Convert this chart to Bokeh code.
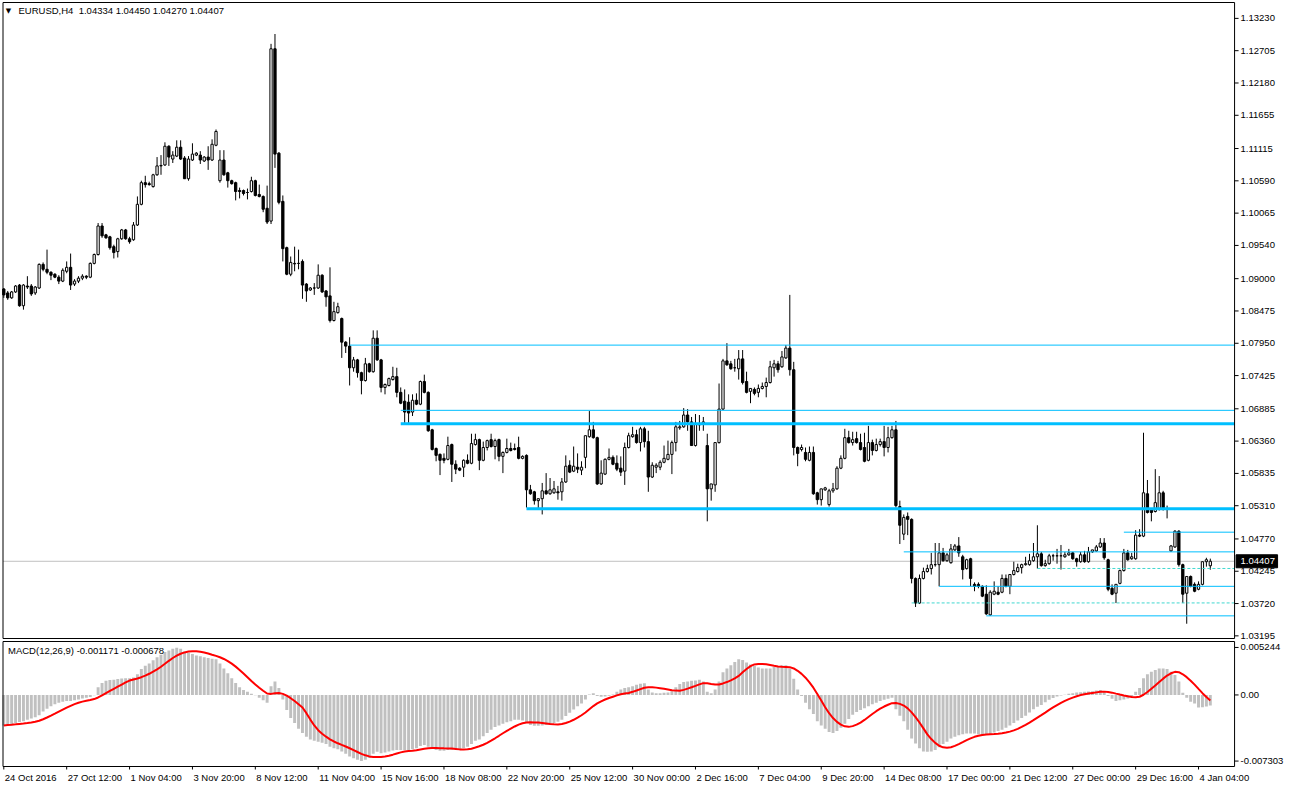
import numpy as np
import pandas as pd
from bokeh.plotting import figure
from bokeh.layouts import column
from bokeh.models import Range1d, ColumnDataSource
from bokeh.core.properties import value
from bokeh.embed import file_html
from bokeh.resources import INLINE

FONT = "Liberation Sans"
FS = "9.5px"

symbol_title = "EURUSD,H4\u00a0 1.04334 1.04450 1.04270 1.04407"
macd_title = "MACD(12,26,9) -0.001171 -0.000678"

open_ = [
    1.08832, 1.08768, 1.08688, 1.08784, 1.08896, 1.08560, 1.08880, 1.08880, 1.08768, 1.08848,
    1.09232, 1.09152, 1.09104, 1.09072, 1.09024, 1.08960, 1.09120, 1.09184, 1.08912, 1.08960,
    1.09008, 1.09040, 1.09024, 1.09248, 1.09392, 1.09856, 1.09712, 1.09680, 1.09520, 1.09440,
    1.09648, 1.09792, 1.09648, 1.09632, 1.09872, 1.10208, 1.10560, 1.10544, 1.10496, 1.10688,
    1.10832, 1.10848, 1.11152, 1.10944, 1.10992, 1.11136, 1.10960, 1.10624, 1.10928, 1.11008,
    1.11008, 1.10912, 1.10976, 1.10928, 1.11168, 1.10592, 1.10928, 1.10720, 1.10592, 1.10560,
    1.10432, 1.10432, 1.10400, 1.10416, 1.10592, 1.10368, 1.10336, 1.10144, 1.09936, 1.12736,
    1.11040, 1.10256, 1.09504, 1.09072, 1.09248, 1.09248, 1.09280, 1.08912, 1.08816, 1.08848,
    1.08848, 1.09056, 1.08800, 1.08720, 1.08320, 1.08448, 1.08352, 1.07968, 1.07904, 1.07552,
    1.07680, 1.07472, 1.07344, 1.07616, 1.07488, 1.08032, 1.07680, 1.07232, 1.07264, 1.07360,
    1.07408, 1.07152, 1.07008, 1.06992, 1.06832, 1.07024, 1.06960, 1.07328, 1.07152, 1.06544,
    1.06240, 1.06144, 1.06080, 1.06064, 1.06304, 1.05984, 1.05920, 1.05936, 1.06048, 1.06000,
    1.06304, 1.06384, 1.06048, 1.06256, 1.06384, 1.06272, 1.06384, 1.06112, 1.06176, 1.06240,
    1.06240, 1.06256, 1.06080, 1.06128, 1.05568, 1.05536, 1.05392, 1.05424, 1.05552, 1.05504,
    1.05520, 1.05536, 1.05536, 1.05696, 1.05968, 1.05872, 1.05936, 1.05888, 1.06096, 1.06432,
    1.06544, 1.06416, 1.05664, 1.05824, 1.06064, 1.06096, 1.06000, 1.05920, 1.05872, 1.06256,
    1.06432, 1.06464, 1.06336, 1.06560, 1.06352, 1.05776, 1.05936, 1.05936, 1.06016, 1.06064,
    1.06144, 1.06336, 1.06576, 1.06592, 1.06784, 1.06672, 1.06288, 1.06640, 1.06640, 1.06288,
    1.05584, 1.05648, 1.06336, 1.06880, 1.07664, 1.07616, 1.07552, 1.07536, 1.07696, 1.07328,
    1.07168, 1.07200, 1.07152, 1.07216, 1.07248, 1.07312, 1.07552, 1.07616, 1.07568, 1.07712,
    1.07872, 1.07520, 1.06256, 1.06224, 1.06176, 1.06048, 1.06176, 1.05520, 1.05408, 1.05568,
    1.05328, 1.05552, 1.05584, 1.05920, 1.06080, 1.06416, 1.06336, 1.06400, 1.06336, 1.06256,
    1.06048, 1.06336, 1.06208, 1.06304, 1.06352, 1.06256, 1.06416, 1.06544, 1.05296, 1.04848,
    1.05136, 1.05088, 1.04128, 1.03728, 1.04128, 1.04240, 1.04288, 1.04352, 1.04352, 1.04544,
    1.04416, 1.04384, 1.04592, 1.04656, 1.04480, 1.04288, 1.04448, 1.04032, 1.04032, 1.04000,
    1.03872, 1.03536, 1.03872, 1.03904, 1.03904, 1.04128, 1.04000, 1.04192, 1.04240, 1.04304,
    1.04352, 1.04352, 1.04416, 1.04480, 1.04528, 1.04336, 1.04368, 1.04496, 1.04496, 1.04496,
    1.04480, 1.04512, 1.04544, 1.04448, 1.04400, 1.04512, 1.04400, 1.04560, 1.04576, 1.04640,
    1.04704, 1.04432, 1.03968, 1.03888, 1.04048, 1.04256, 1.04544, 1.04448, 1.04448, 1.04832,
    1.04816, 1.05504, 1.05248, 1.05216, 1.05248, 1.05520, 1.05248, 1.04576, 1.04640, 1.04896,
    1.04352, 1.03888, 1.04160, 1.04032, 1.03952, 1.04032, 1.04400, 1.04334,
]

high = [
    1.08848, 1.08800, 1.08800, 1.08896, 1.08912, 1.08912, 1.09040, 1.08912, 1.08880, 1.09248,
    1.09264, 1.09472, 1.09120, 1.09088, 1.09056, 1.09168, 1.09280, 1.09408, 1.08992, 1.09040,
    1.09072, 1.09056, 1.09264, 1.09408, 1.09904, 1.09904, 1.09728, 1.09696, 1.09552, 1.09664,
    1.09808, 1.09808, 1.09680, 1.09920, 1.10336, 1.10592, 1.10672, 1.10576, 1.10704, 1.10976,
    1.11008, 1.11216, 1.11168, 1.11072, 1.11248, 1.11248, 1.10992, 1.10992, 1.11200, 1.11056,
    1.11072, 1.10992, 1.11152, 1.11264, 1.11424, 1.11088, 1.11088, 1.10736, 1.10608, 1.10576,
    1.10480, 1.10448, 1.10464, 1.10656, 1.10608, 1.10528, 1.10352, 1.10512, 1.12816, 1.12976,
    1.11056, 1.10352, 1.09520, 1.09360, 1.09520, 1.09472, 1.09312, 1.08928, 1.08864, 1.08928,
    1.09232, 1.09072, 1.08816, 1.09184, 1.08624, 1.08608, 1.08368, 1.07984, 1.08048, 1.07728,
    1.07696, 1.07488, 1.07712, 1.07632, 1.08160, 1.08160, 1.07696, 1.07296, 1.07392, 1.07568,
    1.07552, 1.07232, 1.07200, 1.07120, 1.07120, 1.07136, 1.07344, 1.07440, 1.07168, 1.06560,
    1.06256, 1.06160, 1.06160, 1.06432, 1.06320, 1.06048, 1.05936, 1.06064, 1.06144, 1.06480,
    1.06480, 1.06400, 1.06352, 1.06384, 1.06480, 1.06400, 1.06400, 1.06192, 1.06400, 1.06336,
    1.06320, 1.06432, 1.06128, 1.06144, 1.05648, 1.05552, 1.05424, 1.05680, 1.05840, 1.05760,
    1.05712, 1.05632, 1.05760, 1.06128, 1.06048, 1.06272, 1.06160, 1.06032, 1.06448, 1.06848,
    1.06672, 1.06432, 1.06048, 1.06080, 1.06240, 1.06128, 1.06128, 1.06112, 1.06336, 1.06496,
    1.06592, 1.06544, 1.06592, 1.06592, 1.06528, 1.06016, 1.06000, 1.06048, 1.06288, 1.06368,
    1.06368, 1.06672, 1.06688, 1.06896, 1.06880, 1.06752, 1.06800, 1.06784, 1.06752, 1.06480,
    1.05664, 1.06336, 1.07296, 1.07696, 1.07952, 1.07664, 1.07696, 1.07840, 1.07840, 1.07488,
    1.07216, 1.07232, 1.07280, 1.07312, 1.07392, 1.07664, 1.07680, 1.07664, 1.07824, 1.07920,
    1.08736, 1.07648, 1.06272, 1.06304, 1.06256, 1.06272, 1.06272, 1.05536, 1.05584, 1.05616,
    1.05584, 1.05680, 1.05952, 1.06128, 1.06560, 1.06528, 1.06512, 1.06512, 1.06480, 1.06496,
    1.06608, 1.06384, 1.06400, 1.06400, 1.06608, 1.06592, 1.06608, 1.06688, 1.05392, 1.05168,
    1.05200, 1.05104, 1.04144, 1.04192, 1.04304, 1.04352, 1.04544, 1.04704, 1.04704, 1.04624,
    1.04544, 1.04688, 1.04688, 1.04800, 1.04512, 1.04448, 1.04464, 1.04064, 1.04064, 1.04016,
    1.04016, 1.03936, 1.04080, 1.04000, 1.04192, 1.04192, 1.04192, 1.04400, 1.04368, 1.04368,
    1.04480, 1.04528, 1.04704, 1.04992, 1.04560, 1.04432, 1.04528, 1.04528, 1.04608, 1.04672,
    1.04560, 1.04608, 1.04560, 1.04464, 1.04560, 1.04576, 1.04640, 1.04592, 1.04672, 1.04784,
    1.04784, 1.04448, 1.04032, 1.03984, 1.04272, 1.04608, 1.04592, 1.04544, 1.04912, 1.04928,
    1.06496, 1.05728, 1.05264, 1.05904, 1.05792, 1.05552, 1.05312, 1.04672, 1.04912, 1.04912,
    1.04368, 1.04160, 1.04176, 1.04064, 1.04080, 1.04400, 1.04464, 1.04450,
]

low = [
    1.08688, 1.08656, 1.08672, 1.08768, 1.08544, 1.08496, 1.08832, 1.08720, 1.08736, 1.08832,
    1.09120, 1.09072, 1.08976, 1.09008, 1.08912, 1.08944, 1.09088, 1.08816, 1.08880, 1.08928,
    1.08976, 1.08992, 1.09008, 1.09232, 1.09376, 1.09664, 1.09648, 1.09472, 1.09328, 1.09344,
    1.09632, 1.09632, 1.09568, 1.09616, 1.09856, 1.10192, 1.10480, 1.10512, 1.10480, 1.10672,
    1.10688, 1.10832, 1.10832, 1.10880, 1.10976, 1.10928, 1.10624, 1.10592, 1.10912, 1.10992,
    1.10864, 1.10896, 1.10768, 1.10912, 1.11152, 1.10560, 1.10672, 1.10480, 1.10528, 1.10272,
    1.10304, 1.10352, 1.10288, 1.10400, 1.10336, 1.10320, 1.10080, 1.09888, 1.09888, 1.10800,
    1.10208, 1.09280, 1.09056, 1.09040, 1.09120, 1.09152, 1.08672, 1.08624, 1.08800, 1.08736,
    1.08832, 1.08768, 1.08544, 1.08288, 1.08304, 1.08432, 1.07712, 1.07792, 1.07264, 1.07488,
    1.07392, 1.07120, 1.07328, 1.07472, 1.07472, 1.07664, 1.07152, 1.07120, 1.07248, 1.07344,
    1.07072, 1.06960, 1.06656, 1.06656, 1.06768, 1.06944, 1.06944, 1.07136, 1.06512, 1.06208,
    1.06032, 1.05808, 1.06000, 1.06048, 1.05696, 1.05824, 1.05872, 1.05776, 1.05984, 1.05984,
    1.06288, 1.05888, 1.06032, 1.06208, 1.06256, 1.06064, 1.06032, 1.05840, 1.06160, 1.06192,
    1.06208, 1.06064, 1.06064, 1.05280, 1.05488, 1.05328, 1.05264, 1.05168, 1.05488, 1.05488,
    1.05504, 1.05408, 1.05392, 1.05680, 1.05840, 1.05856, 1.05840, 1.05808, 1.05920, 1.06416,
    1.06400, 1.05648, 1.05648, 1.05808, 1.06048, 1.05968, 1.05872, 1.05792, 1.05648, 1.06240,
    1.06416, 1.06320, 1.06192, 1.06256, 1.05536, 1.05760, 1.05840, 1.05888, 1.06000, 1.06048,
    1.05824, 1.06192, 1.06544, 1.06576, 1.06528, 1.06288, 1.06272, 1.06528, 1.06528, 1.05056,
    1.05392, 1.05536, 1.06320, 1.06864, 1.07584, 1.07520, 1.07488, 1.07360, 1.07280, 1.07136,
    1.06976, 1.07104, 1.07072, 1.07200, 1.07072, 1.07296, 1.07408, 1.07472, 1.07552, 1.07696,
    1.07424, 1.06128, 1.05952, 1.06192, 1.06032, 1.06032, 1.05488, 1.05328, 1.05312, 1.05552,
    1.05296, 1.05520, 1.05568, 1.05904, 1.06064, 1.06320, 1.06288, 1.06320, 1.06208, 1.06016,
    1.06032, 1.06128, 1.06192, 1.06272, 1.06112, 1.06176, 1.06400, 1.05280, 1.04688, 1.04752,
    1.04832, 1.04048, 1.03664, 1.03712, 1.04112, 1.04224, 1.04192, 1.04320, 1.04000, 1.04400,
    1.04400, 1.04368, 1.04576, 1.04480, 1.04112, 1.04272, 1.04000, 1.03920, 1.03968, 1.03824,
    1.03536, 1.03520, 1.03856, 1.03856, 1.03888, 1.03984, 1.03872, 1.04176, 1.04224, 1.04208,
    1.04336, 1.04336, 1.04400, 1.04288, 1.04320, 1.04320, 1.04352, 1.04416, 1.04368, 1.04272,
    1.04464, 1.04496, 1.04432, 1.04320, 1.04384, 1.04384, 1.04384, 1.04544, 1.04560, 1.04624,
    1.04432, 1.03920, 1.03856, 1.03728, 1.04032, 1.04240, 1.04416, 1.04432, 1.04432, 1.04800,
    1.04800, 1.05184, 1.05056, 1.05200, 1.05232, 1.05232, 1.05104, 1.04560, 1.04624, 1.04320,
    1.03728, 1.03392, 1.03984, 1.03904, 1.03936, 1.04016, 1.04320, 1.04270,
]

close = [
    1.08736, 1.08688, 1.08784, 1.08880, 1.08560, 1.08896, 1.08864, 1.08752, 1.08864, 1.09232,
    1.09152, 1.09104, 1.09056, 1.09024, 1.08960, 1.09136, 1.09184, 1.08896, 1.08960, 1.09008,
    1.09040, 1.09024, 1.09248, 1.09392, 1.09856, 1.09696, 1.09664, 1.09504, 1.09424, 1.09648,
    1.09792, 1.09648, 1.09600, 1.09872, 1.10208, 1.10560, 1.10528, 1.10528, 1.10688, 1.10832,
    1.10840, 1.11152, 1.10976, 1.11008, 1.11136, 1.10944, 1.10624, 1.10944, 1.11024, 1.11040,
    1.10928, 1.10976, 1.10928, 1.11184, 1.11392, 1.10928, 1.10688, 1.10592, 1.10544, 1.10416,
    1.10416, 1.10384, 1.10400, 1.10592, 1.10352, 1.10336, 1.10128, 1.09920, 1.12736, 1.11024,
    1.10240, 1.09488, 1.09072, 1.09264, 1.09240, 1.09248, 1.08896, 1.08800, 1.08848, 1.08848,
    1.09056, 1.08784, 1.08704, 1.08320, 1.08464, 1.08544, 1.07968, 1.07904, 1.07552, 1.07680,
    1.07472, 1.07344, 1.07616, 1.07488, 1.08032, 1.07680, 1.07232, 1.07280, 1.07376, 1.07408,
    1.07152, 1.06976, 1.06832, 1.06816, 1.07024, 1.06960, 1.07328, 1.07152, 1.06528, 1.06224,
    1.06128, 1.06048, 1.06048, 1.06288, 1.05984, 1.05904, 1.05888, 1.06048, 1.06000, 1.06320,
    1.06384, 1.06048, 1.06256, 1.06368, 1.06272, 1.06368, 1.06112, 1.06176, 1.06240, 1.06208,
    1.06224, 1.06080, 1.06112, 1.05568, 1.05504, 1.05392, 1.05424, 1.05552, 1.05504, 1.05568,
    1.05584, 1.05520, 1.05696, 1.05952, 1.05856, 1.05952, 1.05904, 1.05936, 1.06448, 1.06544,
    1.06416, 1.05664, 1.05840, 1.06064, 1.06096, 1.05984, 1.05904, 1.05856, 1.06256, 1.06448,
    1.06464, 1.06336, 1.06560, 1.06352, 1.05776, 1.05968, 1.05968, 1.06016, 1.06080, 1.06144,
    1.06336, 1.06592, 1.06592, 1.06784, 1.06672, 1.06288, 1.06640, 1.06624, 1.06672, 1.05584,
    1.05664, 1.06336, 1.06880, 1.07664, 1.07600, 1.07536, 1.07552, 1.07696, 1.07312, 1.07152,
    1.07216, 1.07136, 1.07216, 1.07248, 1.07312, 1.07568, 1.07616, 1.07520, 1.07728, 1.07872,
    1.07520, 1.06256, 1.06160, 1.06256, 1.06064, 1.06176, 1.05504, 1.05408, 1.05584, 1.05600,
    1.05552, 1.05584, 1.05920, 1.06080, 1.06416, 1.06336, 1.06384, 1.06336, 1.06224, 1.06032,
    1.06336, 1.06208, 1.06304, 1.06352, 1.06256, 1.06416, 1.06544, 1.05312, 1.04992, 1.05120,
    1.05088, 1.04128, 1.03728, 1.04128, 1.04240, 1.04288, 1.04352, 1.04352, 1.04544, 1.04416,
    1.04512, 1.04608, 1.04656, 1.04544, 1.04272, 1.04432, 1.04128, 1.04000, 1.04000, 1.03840,
    1.03552, 1.03904, 1.03920, 1.03872, 1.04128, 1.04000, 1.04192, 1.04256, 1.04304, 1.04352,
    1.04368, 1.04416, 1.04480, 1.04528, 1.04336, 1.04368, 1.04496, 1.04496, 1.04496, 1.04496,
    1.04512, 1.04544, 1.04448, 1.04400, 1.04512, 1.04400, 1.04560, 1.04592, 1.04640, 1.04704,
    1.04464, 1.03952, 1.03872, 1.04032, 1.04256, 1.04544, 1.04432, 1.04480, 1.04832, 1.04816,
    1.05520, 1.05200, 1.05200, 1.05360, 1.05520, 1.05248, 1.05248, 1.04656, 1.04896, 1.04352,
    1.03872, 1.04160, 1.04000, 1.03920, 1.04032, 1.04400, 1.04432, 1.04407,
]

macd_main = [
    -0.00337, -0.00329, -0.00322, -0.00311, -0.00300, -0.00290, -0.00275, -0.00261, -0.00247, -0.00225,
    -0.00182, -0.00153, -0.00124, -0.00103, -0.00085, -0.00074, -0.00067, -0.00067, -0.00059, -0.00049,
    -0.00038, -0.00031, -0.00023, -0.00002, 0.00085, 0.00131, 0.00157, 0.00164, 0.00167, 0.00175,
    0.00182, 0.00185, 0.00185, 0.00193, 0.00229, 0.00286, 0.00322, 0.00347, 0.00383, 0.00416,
    0.00445, 0.00473, 0.00491, 0.00509, 0.00520, 0.00509, 0.00481, 0.00466, 0.00452, 0.00437,
    0.00427, 0.00416, 0.00409, 0.00401, 0.00394, 0.00347, 0.00293, 0.00239, 0.00185, 0.00131,
    0.00085, 0.00056, 0.00034, 0.00013, -0.00002, -0.00031, -0.00059, -0.00085, 0.00095, 0.00149,
    0.00077, -0.00049, -0.00167, -0.00254, -0.00311, -0.00373, -0.00419, -0.00463, -0.00491, -0.00506,
    -0.00517, -0.00527, -0.00542, -0.00571, -0.00589, -0.00599, -0.00625, -0.00650, -0.00679, -0.00700,
    -0.00715, -0.00729, -0.00715, -0.00697, -0.00650, -0.00628, -0.00643, -0.00635, -0.00625, -0.00614,
    -0.00607, -0.00607, -0.00607, -0.00607, -0.00599, -0.00589, -0.00563, -0.00553, -0.00571, -0.00589,
    -0.00607, -0.00617, -0.00617, -0.00607, -0.00607, -0.00599, -0.00596, -0.00585, -0.00571, -0.00542,
    -0.00506, -0.00491, -0.00455, -0.00419, -0.00383, -0.00355, -0.00337, -0.00319, -0.00301, -0.00290,
    -0.00275, -0.00275, -0.00283, -0.00311, -0.00333, -0.00340, -0.00340, -0.00337, -0.00333, -0.00326,
    -0.00311, -0.00297, -0.00275, -0.00232, -0.00196, -0.00160, -0.00124, -0.00095, -0.00049, 0.00005,
    0.00020, -0.00013, -0.00020, -0.00016, -0.00009, 0.00005, 0.00034, 0.00059, 0.00077, 0.00085,
    0.00095, 0.00113, 0.00124, 0.00128, 0.00059, 0.00027, 0.00020, 0.00020, 0.00023, 0.00027,
    0.00041, 0.00085, 0.00121, 0.00142, 0.00149, 0.00157, 0.00160, 0.00167, 0.00149, 0.00034,
    0.00020, 0.00059, 0.00149, 0.00250, 0.00293, 0.00329, 0.00365, 0.00394, 0.00387, 0.00358,
    0.00337, 0.00319, 0.00304, 0.00293, 0.00293, 0.00293, 0.00308, 0.00319, 0.00329, 0.00329,
    0.00293, 0.00178, 0.00059, -0.00013, -0.00085, -0.00157, -0.00211, -0.00290, -0.00337, -0.00373,
    -0.00409, -0.00419, -0.00398, -0.00362, -0.00319, -0.00265, -0.00218, -0.00189, -0.00167, -0.00146,
    -0.00124, -0.00103, -0.00085, -0.00067, -0.00052, -0.00041, -0.00031, -0.00157, -0.00229, -0.00290,
    -0.00383, -0.00481, -0.00535, -0.00589, -0.00625, -0.00628, -0.00625, -0.00607, -0.00578, -0.00542,
    -0.00517, -0.00481, -0.00463, -0.00445, -0.00434, -0.00427, -0.00427, -0.00427, -0.00434, -0.00441,
    -0.00441, -0.00434, -0.00416, -0.00398, -0.00383, -0.00362, -0.00337, -0.00311, -0.00283, -0.00254,
    -0.00229, -0.00193, -0.00157, -0.00131, -0.00110, -0.00081, -0.00052, -0.00034, -0.00016, -0.00005,
    0.00002, 0.00013, 0.00020, 0.00027, 0.00031, 0.00034, 0.00038, 0.00041, 0.00049, 0.00056,
    0.00034, -0.00013, -0.00041, -0.00067, -0.00059, -0.00049, -0.00038, -0.00023, 0.00034, 0.00077,
    0.00185, 0.00229, 0.00257, 0.00275, 0.00293, 0.00293, 0.00286, 0.00257, 0.00221, 0.00149,
    0.00023, -0.00031, -0.00074, -0.00095, -0.00139, -0.00135, -0.00128, -0.00117,
]

date_tick_index = [0, 16, 32, 48, 64, 80, 96, 112, 128, 144, 160, 176, 192, 208, 224, 240, 256, 272, 288, 304]
date_tick_labels = ["24 Oct 2016", "27 Oct 12:00", "1 Nov 04:00", "3 Nov 20:00", "8 Nov 12:00",
                    "11 Nov 04:00", "15 Nov 16:00", "18 Nov 08:00", "22 Nov 20:00", "25 Nov 12:00",
                    "30 Nov 00:00", "2 Dec 16:00", "7 Dec 04:00", "9 Dec 20:00", "14 Dec 08:00",
                    "17 Dec 00:00", "21 Dec 12:00", "27 Dec 00:00", "29 Dec 16:00", "4 Jan 04:00"]

price_ticks = [1.13230, 1.12705, 1.12180, 1.11655, 1.11115, 1.10590, 1.10065, 1.09540, 1.09000, 1.08475,
               1.07950, 1.07425, 1.06885, 1.06360, 1.05835, 1.05310, 1.04770, 1.04245, 1.03720, 1.03195]
price_tick_labels = ["%.5f" % t for t in price_ticks]
macd_ticks = [0.005244, 0.0, -0.007303]
macd_tick_labels = ["0.005244", "0.00", "-0.007303"]

bid_price = 1.04407
bid_label = "1.04407"
# user-drawn horizontal levels: price, first bar
level_prices = [1.0792, 1.0686, 1.0664, 1.0526, 1.0488, 1.0456, 1.0400, 1.0352]
level_start = [88, 101, 101, 133, 285, 229, 238, 250]
level_thick = [False, False, True, True, False, False, False, False]
dashed_prices = [1.0429, 1.0373]
dashed_start = [263, 231]

assert len(open_) == len(high) == len(low) == len(close) == len(macd_main) == 308

# ---------------------------------------------------------------- geometry
W = 1284
PXB = 3.93                      # pixels per bar
X0 = -3.3 / PXB                 # data x at left canvas edge
X1 = X0 + W / PXB               # data x at right canvas edge
X_AX = 313.175                  # price-scale border (right edge of chart area)
XL = -0.2                       # left border


def dx(px):
    return px / PXB


MAIN_H = 640
Y_TOP, Y_BOT = 1.135205, 1.031195
PPU = MAIN_H / (Y_TOP - Y_BOT)


def dy(px):
    return px / PPU


M_H = 144
M_TOP, M_BOT = 0.006013, -0.009890
MPPU = M_H / (M_TOP - M_BOT)


def mdy(px):
    return px / MPPU


common = dict(width=W, output_backend="svg", toolbar_location=None,
              x_axis_location=None, y_axis_location=None,
              min_border_left=0, min_border_right=0, min_border_top=0, min_border_bottom=0,
              background_fill_color="white", border_fill_color="white",
              outline_line_color=None)

n = len(close)
idx = np.arange(n)
o = np.array(open_)
h = np.array(high)
l = np.array(low)
c = np.array(close)
bull = c >= o

src_all = ColumnDataSource(dict(x=idx, low=l, high=h))
src_bull = ColumnDataSource(dict(x=idx[bull], top=c[bull], bottom=o[bull]))
src_bear = ColumnDataSource(dict(x=idx[~bull], top=o[~bull], bottom=c[~bull]))

x_range = Range1d(X0, X1)

# ---------------------------------------------------------------- main chart
p = figure(height=MAIN_H, x_range=x_range, y_range=Range1d(Y_BOT, Y_TOP), **common)
p.grid.visible = False

# bid line
p.segment(x0=[XL], y0=[bid_price], x1=[X_AX], y1=[bid_price], line_color="#C0C0C0", line_width=1)

# candles
p.segment(x0="x", y0="low", x1="x", y1="high", source=src_all, line_color="black", line_width=1)
p.vbar(x="x", width=0.58, top="top", bottom="bottom", source=src_bull,
       fill_color="white", line_color="black", line_width=1)
p.vbar(x="x", width=0.58, top="top", bottom="bottom", source=src_bear,
       fill_color="black", line_color="black", line_width=1)

# horizontal levels
for lp, ls, lt in zip(level_prices, level_start, level_thick):
    p.segment(x0=[ls], y0=[lp], x1=[X_AX], y1=[lp],
              line_color="#00BFFF", line_width=3 if lt else 1)
for dp, ds in zip(dashed_prices, dashed_start):
    p.segment(x0=[ds], y0=[dp], x1=[X_AX], y1=[dp],
              line_color="#40D8D0", line_width=1, line_dash="3 2")

# frame of the chart area
p_top, p_bot = Y_TOP - dy(2), Y_BOT + dy(2)
p.line(x=[XL, X_AX, X_AX, XL, XL], y=[p_top, p_top, p_bot, p_bot, p_top], line_color="black", line_width=1)

# price scale: ticks and labels
p.segment(x0=[X_AX] * len(price_ticks), y0=price_ticks, x1=[X_AX + dx(4)] * len(price_ticks), y1=price_ticks,
          line_color="black", line_width=1)
p.text(x=[X_AX + dx(6)] * len(price_ticks), y=price_ticks, text=price_tick_labels,
       text_font=value(FONT), text_font_size=FS, text_color="black",
       text_align="left", text_baseline="middle")

# bid price tag
p.quad(left=[X_AX + dx(1.5)], right=[X_AX + dx(43)], top=[bid_price + dy(6.5)], bottom=[bid_price - dy(6.5)],
       fill_color="black", line_color="black")
p.text(x=[X_AX + dx(6)], y=[bid_price], text=[bid_label], text_font=value(FONT), text_font_size=FS,
       text_color="white", text_align="left", text_baseline="middle")

# header
p.text(x=[dx(8 - 3.3)], y=[Y_TOP - dy(10)], text=["\u25BC"], text_font=value("DejaVu Sans"),
       text_font_size="7px", text_color="black", text_align="center", text_baseline="middle")
p.text(x=[dx(18 - 3.3)], y=[Y_TOP - dy(10)], text=[symbol_title], text_font=value(FONT),
       text_font_size=FS, text_color="black", text_align="left", text_baseline="middle")

# ---------------------------------------------------------------- MACD window
signal = pd.Series(macd_main).rolling(9, min_periods=1).mean().to_numpy()

m = figure(height=M_H, x_range=x_range, y_range=Range1d(M_BOT, M_TOP), **common)
m.grid.visible = False

m.vbar(x=idx, top=macd_main, bottom=0, width=0.75, fill_color="#C0C0C0", line_color=None)
m.line(idx, signal, line_color="red", line_width=2)

m_top, m_bot = M_TOP - mdy(1), M_TOP - mdy(126)
m.line(x=[XL, X_AX, X_AX, XL, XL], y=[m_top, m_top, m_bot, m_bot, m_top], line_color="black", line_width=1)

m.segment(x0=[X_AX] * 3, y0=macd_ticks, x1=[X_AX + dx(4)] * 3, y1=macd_ticks, line_color="black", line_width=1)
m.text(x=[X_AX + dx(6)] * 3, y=macd_ticks, text=macd_tick_labels, text_font=value(FONT),
       text_font_size=FS, text_color="black", text_align="left", text_baseline="middle")

# time scale
nt = len(date_tick_index)
m.segment(x0=date_tick_index, y0=[m_bot] * nt, x1=date_tick_index, y1=[m_bot - mdy(3)] * nt,
          line_color="black", line_width=1)
m.text(x=[t + dx(1) for t in date_tick_index], y=[M_TOP - mdy(137)] * nt, text=date_tick_labels,
       text_font=value(FONT), text_font_size=FS, text_color="black",
       text_align="left", text_baseline="middle")

m.text(x=[dx(7.5 - 3.3)], y=[M_TOP - mdy(10)], text=[macd_title], text_font=value(FONT),
       text_font_size=FS, text_color="black", text_align="left", text_baseline="middle")

layout = column(p, m, spacing=0)
open("out.html", "w").write(file_html(layout, INLINE, "EURUSD H4"))
